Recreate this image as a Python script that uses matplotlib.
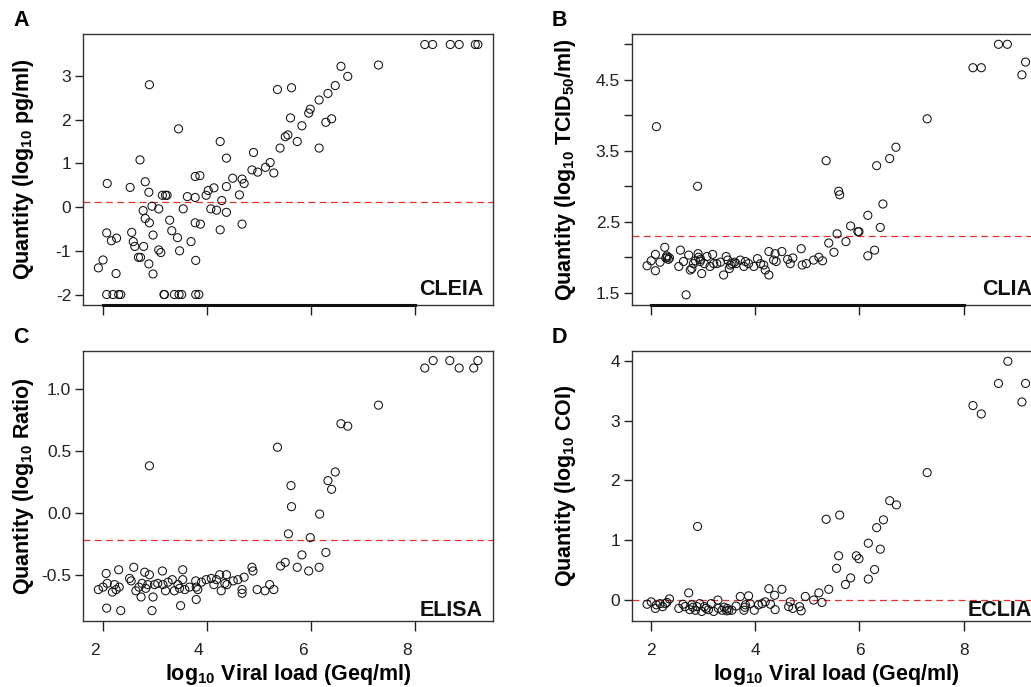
import matplotlib
matplotlib.use('Agg')

import matplotlib.pyplot as plt
import matplotlib.transforms as mtransforms

plt.rcParams['font.family'] = ['Liberation Sans', 'DejaVu Sans']
# all math text here sits inside bold axis labels
plt.rcParams['mathtext.fontset'] = 'custom'
plt.rcParams['mathtext.rm'] = 'Liberation Sans:bold'
plt.rcParams['mathtext.it'] = 'Liberation Sans:bold'
plt.rcParams['mathtext.bf'] = 'Liberation Sans:bold'

# Panel A - CLEIA (log10 pg/ml)
cleia_x = [1.92, 2.01, 2.08, 2.09, 2.08, 2.17, 2.27, 2.20, 2.31, 2.35,
           2.26, 2.53, 2.56, 2.59, 2.62, 2.69, 2.73, 2.72, 2.78, 2.79,
           2.82, 2.82, 2.89, 2.90, 2.90, 2.89, 2.95, 2.97, 2.97, 3.08,
           3.08, 3.12, 3.15, 3.18, 3.19, 3.21, 3.24, 3.29, 3.33, 3.38,
           3.44, 3.46, 3.48, 3.47, 3.52, 3.55, 3.63, 3.70, 3.78, 3.87,
           3.78, 3.78, 3.88, 3.79, 3.79, 3.85, 3.99, 4.03, 4.08, 4.14,
           4.19, 4.26, 4.29, 4.26, 4.38, 4.38, 4.38, 4.50, 4.63, 4.68,
           4.72, 4.68, 4.87, 4.90, 4.98, 5.13, 5.22, 5.29, 5.36, 5.41,
           5.51, 5.56, 5.61, 5.63, 5.74, 5.83, 5.96, 5.99, 6.16, 6.16,
           6.29, 6.40, 6.33, 6.47, 6.58, 6.71, 7.30, 8.19, 8.34, 8.68,
           8.85, 9.16, 9.21]
cleia_y = [-1.39, -1.21, -2.0, 0.54, -0.59, -0.77, -0.71, -2.0, -2.0, -2.0,
           -1.52, 0.45, -0.58, -0.79, -0.90, -1.15, -1.15, 1.08, -0.08, -0.90,
           0.58, -0.26, 0.34, 2.80, -0.36, -1.30, 0.02, -0.64, -1.53, -0.04,
           -0.98, -1.04, 0.27, -2.0, -2.0, 0.27, 0.27, -0.30, -0.54, -2.0,
           -0.70, 1.79, -1.0, -2.0, -2.0, -0.04, 0.24, -0.79, 0.70, 0.72,
           0.22, -0.36, -0.39, -1.22, -2.0, -2.0, 0.27, 0.38, -0.04, 0.44,
           -0.07, 1.50, 0.15, -0.52, 1.12, 0.47, -0.12, 0.66, 0.28, 0.64,
           0.54, -0.39, 0.85, 1.25, 0.80, 0.91, 1.02, 0.78, 2.69, 1.35,
           1.61, 1.65, 2.04, 2.73, 1.50, 1.86, 2.15, 2.24, 2.45, 1.35,
           1.94, 2.02, 2.60, 2.78, 3.22, 2.99, 3.25, 3.72, 3.72, 3.72,
           3.72, 3.72, 3.72]

# Panel B - CLIA (log10 TCID50/ml)
clia_x = [1.92, 2.00, 2.08, 2.08, 2.17, 2.26, 2.28, 2.31, 2.35, 2.56,
          2.53, 2.62, 2.72, 2.75, 2.78, 2.81, 2.90, 2.91, 2.94, 2.97,
          3.02, 3.07, 3.13, 3.18, 3.20, 3.26, 3.33, 3.39, 3.44, 3.47,
          3.50, 3.55, 3.63, 3.71, 3.78, 3.81, 3.87, 3.97, 4.04, 4.10,
          4.16, 4.19, 4.26, 4.26, 4.35, 4.38, 4.51, 4.62, 4.67, 4.72,
          4.88, 4.90, 4.98, 5.12, 5.22, 5.29, 5.41, 5.51, 5.57, 5.74,
          5.83, 5.97, 5.99, 6.16, 6.16, 2.10, 2.89, 2.67, 5.36, 5.60,
          5.62, 6.29, 6.33, 6.40, 6.45, 6.58, 6.70, 7.30, 8.18, 8.34,
          8.67, 8.84, 9.12, 9.19, 2.30, 2.33, 2.85, 2.95, 3.52, 3.60,
          4.40]
clia_y = [1.88, 1.95, 2.04, 1.81, 1.93, 2.14, 1.99, 2.00, 1.99, 2.10,
          1.87, 1.94, 2.03, 1.82, 1.84, 1.91, 2.05, 2.00, 1.94, 1.77,
          1.91, 2.01, 1.87, 2.04, 1.91, 1.91, 1.93, 1.75, 2.01, 1.96,
          1.84, 1.91, 1.91, 1.96, 1.87, 1.94, 1.91, 1.87, 1.98, 1.91,
          1.89, 1.82, 2.08, 1.75, 1.96, 2.05, 2.08, 1.97, 1.91, 1.99,
          2.12, 1.89, 1.91, 1.96, 2.00, 1.95, 2.20, 2.07, 2.33, 2.22,
          2.44, 2.36, 2.36, 2.02, 2.59, 3.84, 3.00, 1.47, 3.36, 2.93,
          2.88, 2.10, 3.29, 2.42, 2.75, 3.39, 3.55, 3.95, 4.67, 4.67,
          5.00, 5.00, 4.57, 4.75, 2.02, 1.97, 1.95, 1.97, 1.89, 1.93,
          1.94]

# Panel C - ELISA (log10 Ratio)
elisa_x = [1.92, 2.01, 2.07, 2.09, 2.08, 2.19, 2.23, 2.26, 2.31, 2.32,
           2.35, 2.52, 2.55, 2.60, 2.64, 2.70, 2.74, 2.76, 2.81, 2.83,
           2.87, 2.90, 2.95, 2.97, 3.00, 3.06, 3.15, 3.16, 3.21, 3.26,
           3.34, 3.38, 3.45, 3.48, 3.50, 3.54, 3.54, 3.58, 3.67, 3.79,
           3.80, 3.80, 3.83, 3.90, 3.99, 4.09, 4.14, 4.19, 4.25, 4.28,
           4.35, 4.38, 4.39, 4.51, 4.60, 4.68, 4.68, 4.72, 4.87, 4.89,
           4.97, 5.12, 5.21, 5.29, 5.42, 5.51, 5.74, 5.83, 5.96, 6.16,
           6.29, 5.57, 5.99, 2.90, 5.36, 5.62, 5.63, 6.17, 6.33, 6.40,
           6.47, 6.58, 6.71, 7.30, 8.19, 8.35, 8.67, 8.85, 9.13, 9.21]
elisa_y = [-0.62, -0.60, -0.49, -0.57, -0.77, -0.64, -0.58, -0.62, -0.46, -0.60,
           -0.79, -0.53, -0.55, -0.44, -0.63, -0.60, -0.68, -0.57, -0.48, -0.61,
           -0.58, -0.50, -0.79, -0.68, -0.58, -0.57, -0.47, -0.58, -0.63, -0.56,
           -0.54, -0.63, -0.58, -0.61, -0.75, -0.46, -0.54, -0.62, -0.60, -0.55,
           -0.60, -0.70, -0.62, -0.56, -0.54, -0.53, -0.58, -0.54, -0.50, -0.63,
           -0.57, -0.50, -0.58, -0.55, -0.54, -0.62, -0.65, -0.52, -0.44, -0.47,
           -0.62, -0.63, -0.58, -0.62, -0.43, -0.40, -0.44, -0.34, -0.47, -0.44,
           -0.32, -0.17, -0.20, 0.38, 0.53, 0.22, 0.05, -0.01, 0.26, 0.19,
           0.33, 0.72, 0.70, 0.87, 1.17, 1.23, 1.23, 1.17, 1.17, 1.23]

# Panel D - ECLIA (log10 COI)
eclia_x = [1.92, 2.00, 2.08, 2.10, 2.17, 2.22, 2.27, 2.30, 2.35, 2.72,
           2.53, 2.61, 2.65, 2.74, 2.78, 2.85, 2.88, 2.93, 2.97, 3.02,
           3.10, 3.15, 3.20, 3.28, 3.29, 3.36, 3.46, 3.49, 3.55, 3.63,
           3.71, 3.78, 3.81, 3.87, 3.90, 3.98, 4.06, 4.13, 4.19, 4.26,
           4.29, 4.37, 4.38, 4.51, 4.64, 4.67, 4.72, 4.88, 4.85, 4.96,
           5.12, 5.22, 5.28, 5.41, 2.89, 5.36, 5.62, 5.56, 5.60, 5.73,
           5.83, 5.94, 5.99, 6.17, 6.17, 6.29, 6.33, 6.40, 6.46, 6.58,
           6.71, 7.30, 8.18, 8.34, 8.67, 8.85, 9.12, 9.19, 2.80, 3.05,
           3.40, 3.45, 3.80]
eclia_y = [-0.07, -0.03, -0.14, -0.08, -0.06, -0.11, -0.06, -0.04, 0.02, 0.12,
           -0.14, -0.07, -0.11, -0.16, -0.08, -0.17, -0.11, -0.06, -0.19, -0.11,
           -0.16, -0.06, -0.19, 0.00, -0.14, -0.17, -0.14, -0.17, -0.17, -0.10,
           0.06, -0.17, -0.08, 0.07, -0.06, -0.17, -0.08, -0.06, -0.03, 0.19,
           -0.07, 0.08, -0.16, 0.18, -0.11, -0.03, -0.14, -0.18, -0.11, 0.06,
           0.00, 0.12, -0.04, 0.18, 1.23, 1.35, 1.42, 0.53, 0.74, 0.26,
           0.37, 0.74, 0.69, 0.35, 0.95, 0.51, 1.21, 0.85, 1.34, 1.66,
           1.59, 2.13, 3.25, 3.11, 3.62, 3.99, 3.31, 3.62, -0.12, -0.14,
           -0.12, -0.18, -0.12]

cutoffs = [0.12, 2.3, -0.22, 0.0]
x_ticks = [2, 4, 6, 8]

W, H = 1031, 687
fig = plt.figure(figsize=(W / 100, H / 100), dpi=100)

def px_axes(left, top, right, bottom):
  return fig.add_axes([left / W, 1 - bottom / H, (right - left) / W, (bottom - top) / H])

def panel(ax, xs, ys, cutoff, ylim, yticks, ylabels, ylabel, name, letter,
          letter_x, ylabel_x, bottom_row, name_pad, xlab_shift=0.0):
  ax.scatter(xs, ys, s=34, facecolors='none', edgecolors='#111111',
             linewidths=0.75, zorder=3)
  ax.axhline(cutoff, color='#e8312a', lw=0.9, linestyle=(0, (5.5, 3.5)), zorder=2)
  ax.set_xlim(1.625, 9.5)
  ax.set_ylim(*ylim)
  for sp in ax.spines.values():
    sp.set_color('#333333')
    sp.set_linewidth(1.0)
  ax.set_xticks(x_ticks)
  ax.set_yticks(yticks)
  ax.set_yticklabels(ylabels)
  ax.tick_params(axis='x', direction='out', length=7.5, width=1.0, color='#222222',
                 labelsize=12.5, labelcolor='#222222', pad=8)
  ax.tick_params(axis='y', direction='out', length=5.5, width=1.0, color='#222222',
                 labelsize=12.5, labelcolor='#222222', pad=3)
  if bottom_row:
    ax.set_xlabel(r'log$_{10}$ Viral load (Geq/ml)', fontsize=15.5,
                  fontweight='bold', labelpad=3)
    if xlab_shift:
      off = mtransforms.ScaledTranslation(xlab_shift / 100, 0, fig.dpi_scale_trans)
      for lab in ax.get_xticklabels():
        lab.set_transform(lab.get_transform() + off)
  else:
    ax.tick_params(axis='x', labelbottom=False)
    ax.plot([x_ticks[0], x_ticks[-1]], [0, 0], transform=ax.get_xaxis_transform(),
            color='#111111', lw=2.2, clip_on=False, zorder=4)
  bbox = ax.get_position()
  ax_w = bbox.width * W
  ax_h = bbox.height * H
  ax.set_ylabel(ylabel, fontsize=15.5, fontweight='bold')
  ax.yaxis.set_label_coords((ylabel_x - bbox.x0 * W) / ax_w, 0.5)
  ax.text(1 - 10 / ax_w, name_pad / ax_h, name, transform=ax.transAxes,
          ha='right', va='baseline', fontsize=15.5, fontweight='bold', color='#111111')
  fig.text(letter_x / W, bbox.y1 + 13 / H, letter, fontsize=15.5,
           fontweight='bold', ha='left', va='center')

ax_a = px_axes(83, 34, 493, 305)
ax_b = px_axes(631.7, 34, 1041.7, 305)
ax_c = px_axes(83, 350.7, 493, 621)
ax_d = px_axes(631.7, 350.7, 1041.7, 621)

panel(ax_a, cleia_x, cleia_y, cutoffs[0], (-2.24, 3.96),
      [-2, -1, 0, 1, 2, 3], ['-2', '-1', '0', '1', '2', '3'],
      r'Quantity (log$_{10}$ pg/ml)', 'CLEIA', 'A', 13, 36, False, 10)
panel(ax_b, clia_x, clia_y, cutoffs[1], (1.327, 5.145),
      [1.5, 2.0, 2.5, 3.0, 3.5, 4.0, 4.5, 5.0],
      ['1.5', '', '2.5', '', '3.5', '', '4.5', ''],
      r'Quantity (log$_{10}$ TCID$_{50}$/ml)', 'CLIA', 'B', 552, 578, False, 10)
panel(ax_c, elisa_x, elisa_y, cutoffs[2], (-0.874, 1.31),
      [-0.5, 0.0, 0.5, 1.0], ['-0.5', '0.0', '0.5', '1.0'],
      r'Quantity (log$_{10}$ Ratio)', 'ELISA', 'C', 13, 36, True, 4.5, xlab_shift=-8)
panel(ax_d, eclia_x, eclia_y, cutoffs[3], (-0.35, 4.167),
      [0, 1, 2, 3, 4], ['0', '1', '2', '3', '4'],
      r'Quantity (log$_{10}$ COI)', 'ECLIA', 'D', 552, 578, True, 4.5)

plt.savefig('out.png', dpi=100)
